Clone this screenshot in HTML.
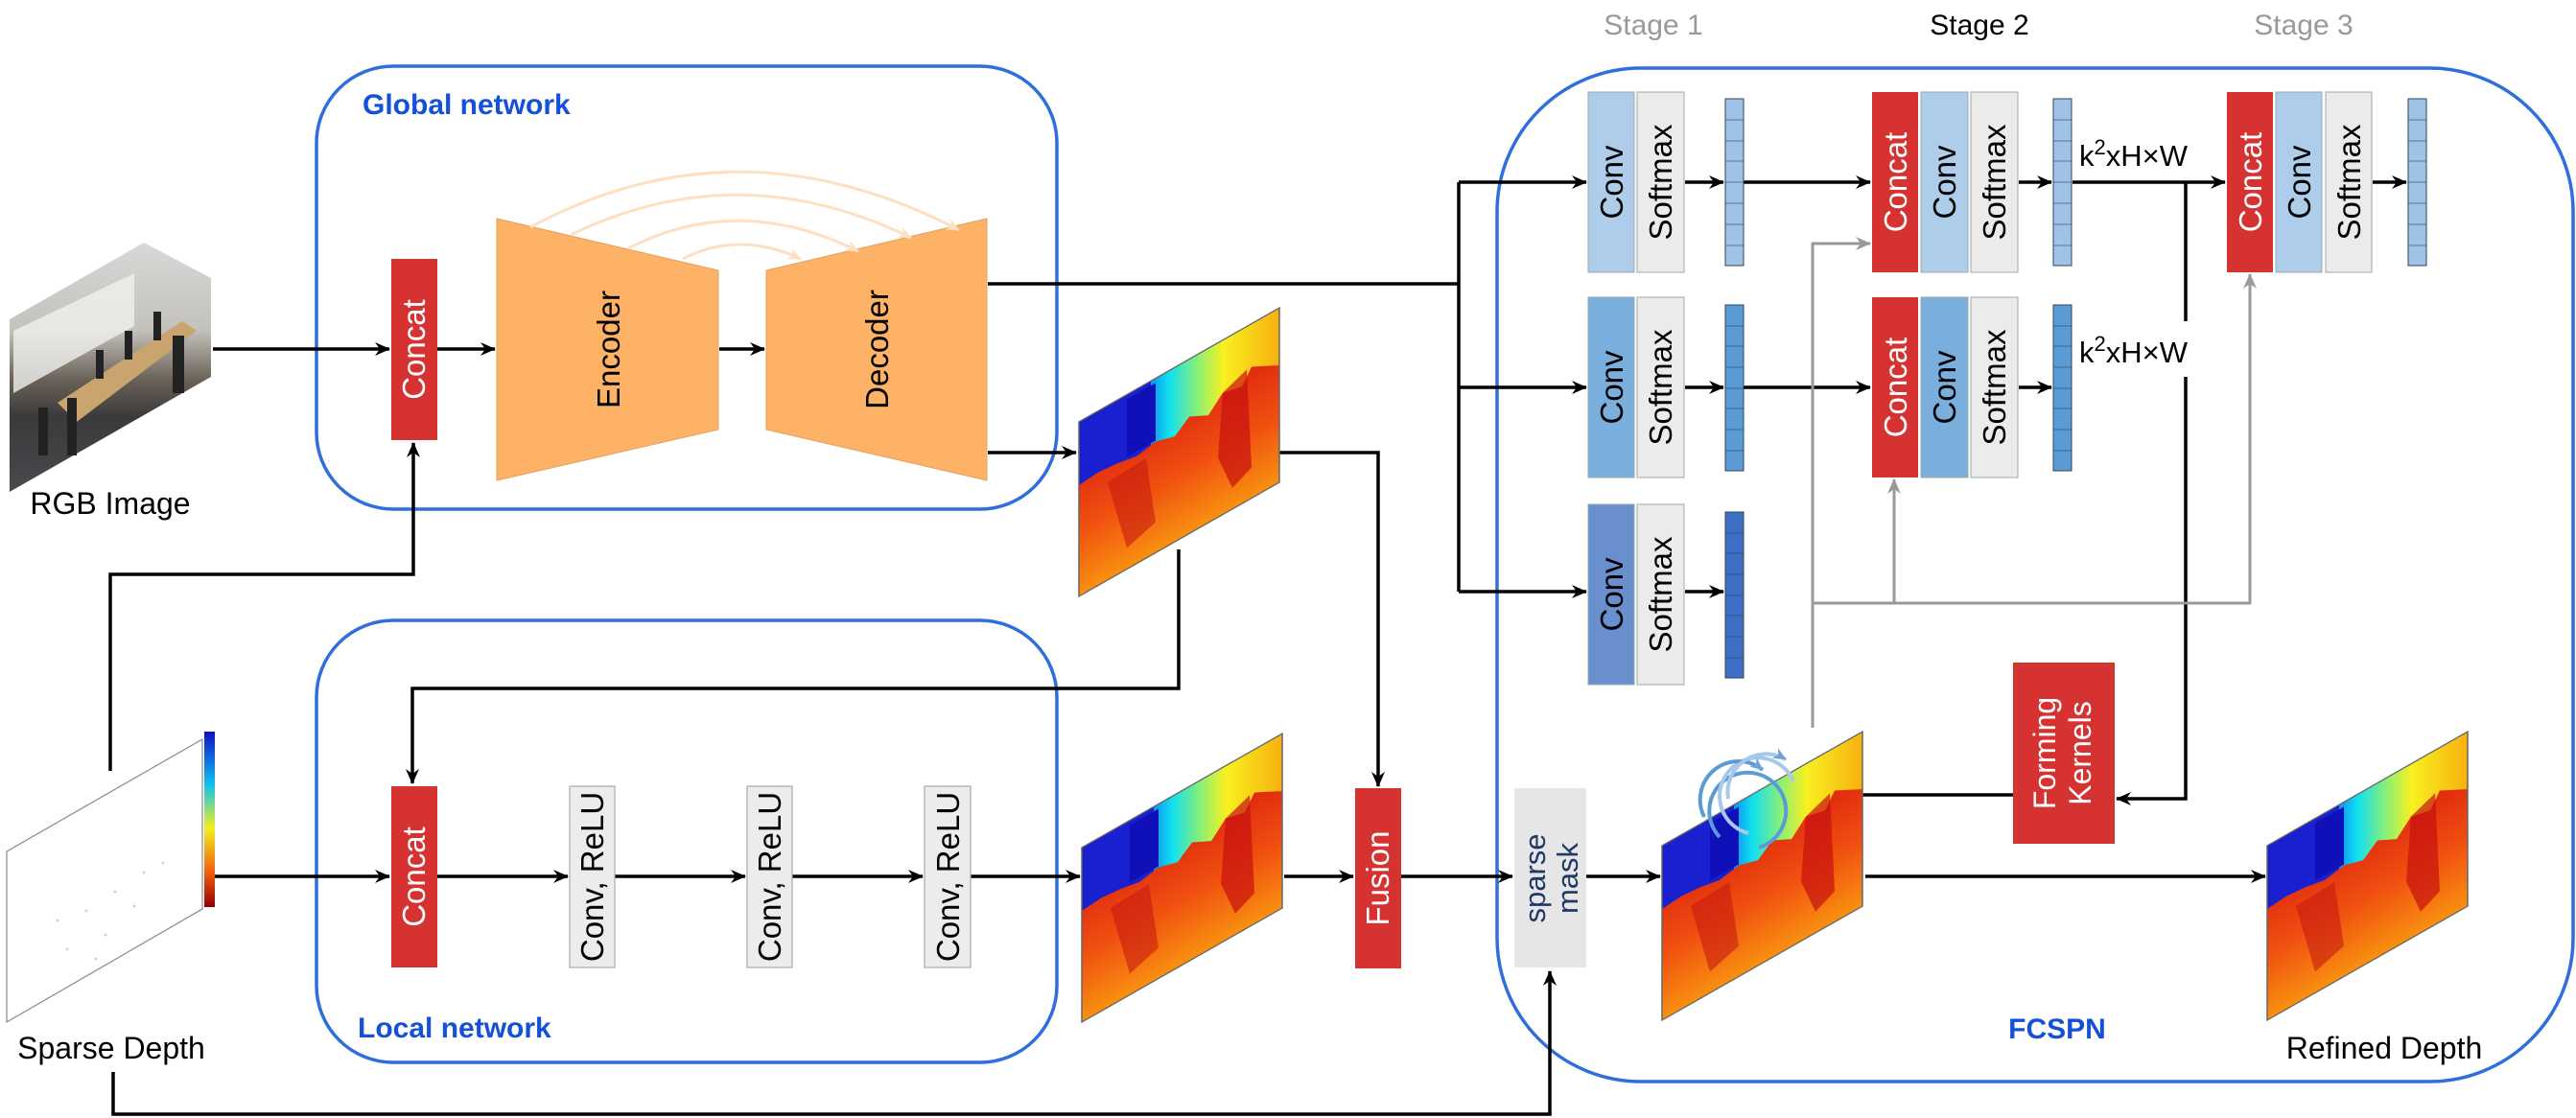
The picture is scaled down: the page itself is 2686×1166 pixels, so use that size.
<!DOCTYPE html>
<html><head><meta charset="utf-8"><style>
html,body{margin:0;padding:0;background:#fff;}
svg{display:block;font-family:"Liberation Sans",Arial,sans-serif;}
</style></head><body>
<svg width="2686" height="1166" viewBox="0 0 2686 1166" xmlns="http://www.w3.org/2000/svg">
<defs>
<marker id="ah" markerWidth="16" markerHeight="14" refX="15" refY="7" orient="auto" markerUnits="userSpaceOnUse"><path d="M0,0 L16,7 L0,14 L5,7 Z" fill="#000"/></marker>
<marker id="ag" markerWidth="16" markerHeight="14" refX="15" refY="7" orient="auto" markerUnits="userSpaceOnUse"><path d="M0,0 L16,7 L0,14 L5,7 Z" fill="#999"/></marker>
<marker id="ap" markerWidth="14" markerHeight="12" refX="13" refY="6" orient="auto" markerUnits="userSpaceOnUse"><path d="M0,0 L14,6 L0,12 L4,6 Z" fill="#fde0c4"/></marker>
<marker id="ab" markerWidth="14" markerHeight="12" refX="13" refY="6" orient="auto" markerUnits="userSpaceOnUse"><path d="M0,0 L14,6 L0,12 L4,6 Z" fill="#6fa3d8"/></marker>
<linearGradient id="dtop" x1="0" y1="0" x2="1" y2="0">
<stop offset="0" stop-color="#1a1ad8"/><stop offset="0.3" stop-color="#1060f0"/><stop offset="0.45" stop-color="#10e0f0"/><stop offset="0.6" stop-color="#90f070"/><stop offset="0.72" stop-color="#f8f020"/><stop offset="1" stop-color="#f8b010"/></linearGradient>
<linearGradient id="dbot" x1="0" y1="0" x2="0" y2="1">
<stop offset="0" stop-color="#e02a10"/><stop offset="0.5" stop-color="#f05010"/><stop offset="1" stop-color="#f89010"/></linearGradient>
<linearGradient id="rgb" x1="0" y1="0" x2="0" y2="1">
<stop offset="0" stop-color="#d8d8d8"/><stop offset="0.35" stop-color="#c4c2bc"/><stop offset="0.55" stop-color="#6a6258"/><stop offset="0.7" stop-color="#3a3a3c"/><stop offset="1" stop-color="#4a4a4e"/></linearGradient>
<g id="depth">
<rect x="0" y="0" width="209" height="182" fill="url(#dtop)"/>
<rect x="0" y="0" width="75" height="70" fill="#1820d0"/>
<rect x="50" y="5" width="30" height="60" fill="#1010b8"/>
<path d="M0,66 L20,64 L40,66 L60,70 L80,66 L100,72 L115,60 L135,70 L150,55 L170,60 L180,45 L209,60 L209,182 L0,182 Z" fill="url(#dbot)"/>
<path d="M150,55 L175,45 L180,150 L160,160 L145,120 Z" fill="#c81010" opacity="0.7"/>
<path d="M30,80 L70,78 L80,150 L50,160 Z" fill="#c81a10" opacity="0.6"/>
<rect x="0" y="0" width="209" height="182" fill="none" stroke="#666" stroke-width="1.5"/>
</g>
</defs>

<!-- containers -->
<rect x="330" y="69" width="772" height="462" rx="80" fill="none" stroke="#2f6fdc" stroke-width="3.5"/>
<rect x="330" y="647" width="772" height="461" rx="80" fill="none" stroke="#2f6fdc" stroke-width="3.5"/>
<rect x="1561" y="71" width="1122" height="1057" rx="150" fill="none" stroke="#2f6fdc" stroke-width="3.5"/>
<text x="378" y="119" font-size="30" font-weight="bold" fill="#1550d8">Global network</text>
<text x="373" y="1082" font-size="30" font-weight="bold" fill="#1550d8">Local network</text>
<text x="2145" y="1083" font-size="30" font-weight="bold" fill="#1550d8" text-anchor="middle">FCSPN</text>

<!-- stage labels -->
<text x="1724" y="36" font-size="30" fill="#999" text-anchor="middle">Stage 1</text>
<text x="2064" y="36" font-size="30" fill="#000" text-anchor="middle">Stage 2</text>
<text x="2402" y="36" font-size="30" fill="#999" text-anchor="middle">Stage 3</text>

<!-- RGB image -->
<polygon points="10,333 150,253 220,290 220,393 10,513" fill="url(#rgb)"/>
<polygon points="14,345 140,285 140,340 14,410" fill="#f0f0ee" opacity="0.8"/>
<polygon points="60,420 190,335 205,345 80,440" fill="#c9a46e"/>
<g fill="#222"><rect x="100" y="365" width="8" height="30"/><rect x="130" y="345" width="8" height="30"/><rect x="160" y="325" width="8" height="30"/><rect x="40" y="425" width="10" height="50"/><rect x="70" y="415" width="10" height="60"/><rect x="180" y="350" width="12" height="60"/></g>
<text x="115" y="536" font-size="32" fill="#000" text-anchor="middle">RGB Image</text>

<!-- Sparse depth -->
<polygon points="7,888 211,771 211,948 7,1066" fill="#fff" stroke="#888" stroke-width="1.2"/>
<g fill="#f0a0a0" opacity="0.6"><circle cx="60" cy="960" r="1.5"/><circle cx="90" cy="950" r="1.5"/><circle cx="120" cy="930" r="1.5"/><circle cx="150" cy="910" r="1.5"/><circle cx="70" cy="990" r="1.5"/><circle cx="110" cy="975" r="1.5"/><circle cx="140" cy="945" r="1.5"/><circle cx="170" cy="900" r="1.5"/><circle cx="100" cy="1000" r="1.5"/></g>
<defs><linearGradient id="cb" x1="0" y1="0" x2="0" y2="1"><stop offset="0" stop-color="#1010c0"/><stop offset="0.3" stop-color="#10c0f0"/><stop offset="0.55" stop-color="#f0f020"/><stop offset="0.8" stop-color="#f06010"/><stop offset="1" stop-color="#900000"/></linearGradient></defs>
<rect x="213" y="763" width="11" height="183" fill="url(#cb)"/>
<text x="116" y="1104" font-size="32" fill="#000" text-anchor="middle">Sparse Depth</text>

<!-- Global network internals -->
<rect x="408" y="270" width="48" height="189" fill="#d63232"/>
<text transform="translate(443,364.5) rotate(-90)" font-size="33" fill="#fff" text-anchor="middle">Concat</text>
<polygon points="518,228 749,282 749,448 518,501" fill="#fdb266" stroke="#e0a060" stroke-width="1"/>
<polygon points="799,282 1029,228 1029,501 799,448" fill="#fdb266" stroke="#e0a060" stroke-width="1"/>
<text transform="translate(646,364.5) rotate(-90)" font-size="33" fill="#000" text-anchor="middle">Encoder</text>
<text transform="translate(926,364.5) rotate(-90)" font-size="33" fill="#000" text-anchor="middle">Decoder</text>
<g fill="none" stroke="#fde0c4" stroke-width="3">
<path d="M553,237 Q770,120 1000,240" marker-end="url(#ap)"/>
<path d="M595,245 Q770,160 950,248" marker-end="url(#ap)"/>
<path d="M655,259 Q770,200 895,262" marker-end="url(#ap)"/>
<path d="M712,270 Q770,240 835,270" marker-end="url(#ap)"/>
</g>

<g stroke="#000" stroke-width="3.5" fill="none">
<line x1="222" y1="364" x2="406" y2="364" marker-end="url(#ah)"/>
<line x1="456" y1="364" x2="516" y2="364" marker-end="url(#ah)"/>
<line x1="750" y1="364" x2="797" y2="364" marker-end="url(#ah)"/>
<line x1="1030" y1="472" x2="1122" y2="472" marker-end="url(#ah)"/>
<polyline points="1030,296 1521,296"/>
<polyline points="115,804 115,599 431,599 431,462" marker-end="url(#ah)"/>
<polyline points="1229,573 1229,718 430,718 430,817" marker-end="url(#ah)"/>
<line x1="224" y1="914" x2="406" y2="914" marker-end="url(#ah)"/>
<line x1="456" y1="914" x2="592" y2="914" marker-end="url(#ah)"/>
<line x1="641" y1="914" x2="777" y2="914" marker-end="url(#ah)"/>
<line x1="826" y1="914" x2="962" y2="914" marker-end="url(#ah)"/>
<line x1="1012" y1="914" x2="1126" y2="914" marker-end="url(#ah)"/>
<polyline points="1334,472 1437,472 1437,820" marker-end="url(#ah)"/>
<line x1="1339" y1="914" x2="1411" y2="914" marker-end="url(#ah)"/>
<line x1="1461" y1="914" x2="1577" y2="914" marker-end="url(#ah)"/>
<line x1="1654" y1="914" x2="1731" y2="914" marker-end="url(#ah)"/>
<line x1="1945" y1="914" x2="2362" y2="914" marker-end="url(#ah)"/>
<polyline points="118,1118 118,1162 1616,1162 1616,1013" marker-end="url(#ah)"/>
<polyline points="1521,190 1521,617"/>
<line x1="1521" y1="190" x2="1654" y2="190" marker-end="url(#ah)"/>
<line x1="1521" y1="404" x2="1654" y2="404" marker-end="url(#ah)"/>
<line x1="1521" y1="617" x2="1654" y2="617" marker-end="url(#ah)"/>
<line x1="1757" y1="190" x2="1797" y2="190" marker-end="url(#ah)"/>
<line x1="1757" y1="404" x2="1797" y2="404" marker-end="url(#ah)"/>
<line x1="1757" y1="617" x2="1797" y2="617" marker-end="url(#ah)"/>
<line x1="1818" y1="190" x2="1950" y2="190" marker-end="url(#ah)"/>
<line x1="1818" y1="404" x2="1950" y2="404" marker-end="url(#ah)"/>
<line x1="2105" y1="190" x2="2139" y2="190" marker-end="url(#ah)"/>
<line x1="2105" y1="404" x2="2139" y2="404" marker-end="url(#ah)"/>
<line x1="2161" y1="190" x2="2320" y2="190" marker-end="url(#ah)"/>
<line x1="2474" y1="190" x2="2509" y2="190" marker-end="url(#ah)"/>
<polyline points="2279,190 2279,335"/>
<polyline points="2279,393 2279,833 2207,833" marker-end="url(#ah)"/>
<line x1="2099" y1="829" x2="1861" y2="829" marker-end="url(#ah)"/>
<line x1="1913" y1="828" x2="1877" y2="813" marker-end="url(#ah)"/>
</g>

<!-- gray lines -->
<g stroke="#999" stroke-width="3" fill="none">
<polyline points="1890,759 1890,254 1950,254" marker-end="url(#ag)"/>
<polyline points="1890,629 2346,629 2346,286" marker-end="url(#ag)"/>
<line x1="1975" y1="629" x2="1975" y2="500" marker-end="url(#ag)"/>
</g>

<!-- local boxes -->
<rect x="408" y="820" width="48" height="189" fill="#d63232"/>
<text transform="translate(443,914.5) rotate(-90)" font-size="33" fill="#fff" text-anchor="middle">Concat</text>
<g fill="#ececec" stroke="#aaa" stroke-width="1.2">
<rect x="594" y="820" width="47" height="189"/><rect x="779" y="820" width="47" height="189"/><rect x="964" y="820" width="48" height="189"/>
</g>
<g font-size="33" fill="#000" text-anchor="middle">
<text transform="translate(629,914.5) rotate(-90)">Conv, ReLU</text>
<text transform="translate(814,914.5) rotate(-90)">Conv, ReLU</text>
<text transform="translate(1000,914.5) rotate(-90)">Conv, ReLU</text>
</g>

<!-- depth images -->
<g transform="translate(1125,440) skewY(-29.65)"><use href="#depth"/></g>
<g transform="translate(1128,884) skewY(-29.65)"><use href="#depth"/></g>
<g transform="translate(1733,882) skewY(-29.65)"><use href="#depth"/></g>
<g transform="translate(2364,882) skewY(-29.65)"><use href="#depth"/></g>

<!-- Fusion & sparse mask -->
<rect x="1413" y="822" width="48" height="188" fill="#d63232"/>
<text transform="translate(1448,916) rotate(-90)" font-size="33" fill="#fff" text-anchor="middle">Fusion</text>
<rect x="1579" y="822" width="75" height="187" fill="#e6e6e6"/>
<text transform="translate(1611,916) rotate(-90)" font-size="31" fill="#1f3864" text-anchor="middle">sparse</text>
<text transform="translate(1645,916) rotate(-90)" font-size="31" fill="#1f3864" text-anchor="middle">mask</text>

<!-- circles -->
<g fill="none" stroke-width="4">
<path d="M1793,873 A40,40 0 1,1 1834,884" stroke="#5b9bd5"/>
<path d="M1823,869 A40,40 0 1,1 1870,815" stroke="#a7c8e8"/>
<path d="M1777,852 A40,40 0 0,1 1838,803" stroke="#5b9bd5" marker-end="url(#ab)"/>
<path d="M1802,833 A40,40 0 0,1 1862,792" stroke="#a7c8e8" marker-end="url(#ab)"/>
</g>

<!-- Forming Kernels -->
<rect x="2099" y="691" width="106" height="189" fill="#d63232"/>
<text transform="translate(2143,785.5) rotate(-90)" font-size="32" fill="#fff" text-anchor="middle">Forming</text>
<text transform="translate(2180,785.5) rotate(-90)" font-size="32" fill="#fff" text-anchor="middle">Kernels</text>

<!-- FCSPN column blocks -->
<g stroke="#9aa" stroke-width="1">
<rect x="1656" y="96" width="48" height="188" fill="#aecdea"/>
<rect x="1707" y="96" width="49" height="188" fill="#ebebeb"/>
<rect x="1656" y="310" width="48" height="188" fill="#7aaedc"/>
<rect x="1707" y="310" width="49" height="188" fill="#ebebeb"/>
<rect x="1656" y="526" width="48" height="188" fill="#6a8fcf"/>
<rect x="1707" y="526" width="49" height="188" fill="#ebebeb"/>
<rect x="1952" y="96" width="48" height="188" fill="#d63232" stroke="none"/>
<rect x="2003" y="96" width="49" height="188" fill="#aecdea"/>
<rect x="2055" y="96" width="49" height="188" fill="#ebebeb"/>
<rect x="1952" y="310" width="48" height="188" fill="#d63232" stroke="none"/>
<rect x="2003" y="310" width="49" height="188" fill="#7aaedc"/>
<rect x="2055" y="310" width="49" height="188" fill="#ebebeb"/>
<rect x="2322" y="96" width="48" height="188" fill="#d63232" stroke="none"/>
<rect x="2373" y="96" width="48" height="188" fill="#aecdea"/>
<rect x="2425" y="96" width="48" height="188" fill="#ebebeb"/>
</g>
<g font-size="33" text-anchor="middle">
<text transform="translate(1692,190) rotate(-90)">Conv</text>
<text transform="translate(1743,190) rotate(-90)">Softmax</text>
<text transform="translate(1692,404) rotate(-90)">Conv</text>
<text transform="translate(1743,404) rotate(-90)">Softmax</text>
<text transform="translate(1692,620) rotate(-90)">Conv</text>
<text transform="translate(1743,620) rotate(-90)">Softmax</text>
<text transform="translate(1988,190) rotate(-90)" fill="#fff">Concat</text>
<text transform="translate(2039,190) rotate(-90)">Conv</text>
<text transform="translate(2091,190) rotate(-90)">Softmax</text>
<text transform="translate(1988,404) rotate(-90)" fill="#fff">Concat</text>
<text transform="translate(2039,404) rotate(-90)">Conv</text>
<text transform="translate(2091,404) rotate(-90)">Softmax</text>
<text transform="translate(2358,190) rotate(-90)" fill="#fff">Concat</text>
<text transform="translate(2409,190) rotate(-90)">Conv</text>
<text transform="translate(2461,190) rotate(-90)">Softmax</text>
</g>

<!-- vectors -->
<g stroke="#345" stroke-width="1">
<rect x="1799" y="103" width="19" height="174" fill="#9ec3e6"/>
<rect x="1799" y="318" width="19" height="173" fill="#5a9bd5"/>
<rect x="1799" y="534" width="19" height="173" fill="#3f6fc4"/>
<rect x="2141" y="103" width="19" height="174" fill="#9ec3e6"/>
<rect x="2141" y="318" width="19" height="173" fill="#5a9bd5"/>
<rect x="2511" y="103" width="19" height="174" fill="#9ec3e6"/>
</g>
<g stroke="#345" stroke-width="1" opacity="0.6">
<path d="M1799,125h19M1799,147h19M1799,168h19M1799,190h19M1799,212h19M1799,234h19M1799,256h19"/>
<path d="M1799,340h19M1799,361h19M1799,383h19M1799,405h19M1799,426h19M1799,448h19M1799,470h19"/>
<path d="M1799,556h19M1799,577h19M1799,599h19M1799,621h19M1799,642h19M1799,664h19M1799,686h19"/>
<path d="M2141,125h19M2141,147h19M2141,168h19M2141,190h19M2141,212h19M2141,234h19M2141,256h19"/>
<path d="M2141,340h19M2141,361h19M2141,383h19M2141,405h19M2141,426h19M2141,448h19M2141,470h19"/>
<path d="M2511,125h19M2511,147h19M2511,168h19M2511,190h19M2511,212h19M2511,234h19M2511,256h19"/>
</g>

<text x="2168" y="173" font-size="31" fill="#000">k<tspan dy="-12" font-size="22">2</tspan><tspan dy="12">xH×W</tspan></text>
<text x="2168" y="378" font-size="31" fill="#000">k<tspan dy="-12" font-size="22">2</tspan><tspan dy="12">xH×W</tspan></text>

<text x="2486" y="1104" font-size="32" fill="#000" text-anchor="middle">Refined Depth</text>
</svg>
</body></html>
